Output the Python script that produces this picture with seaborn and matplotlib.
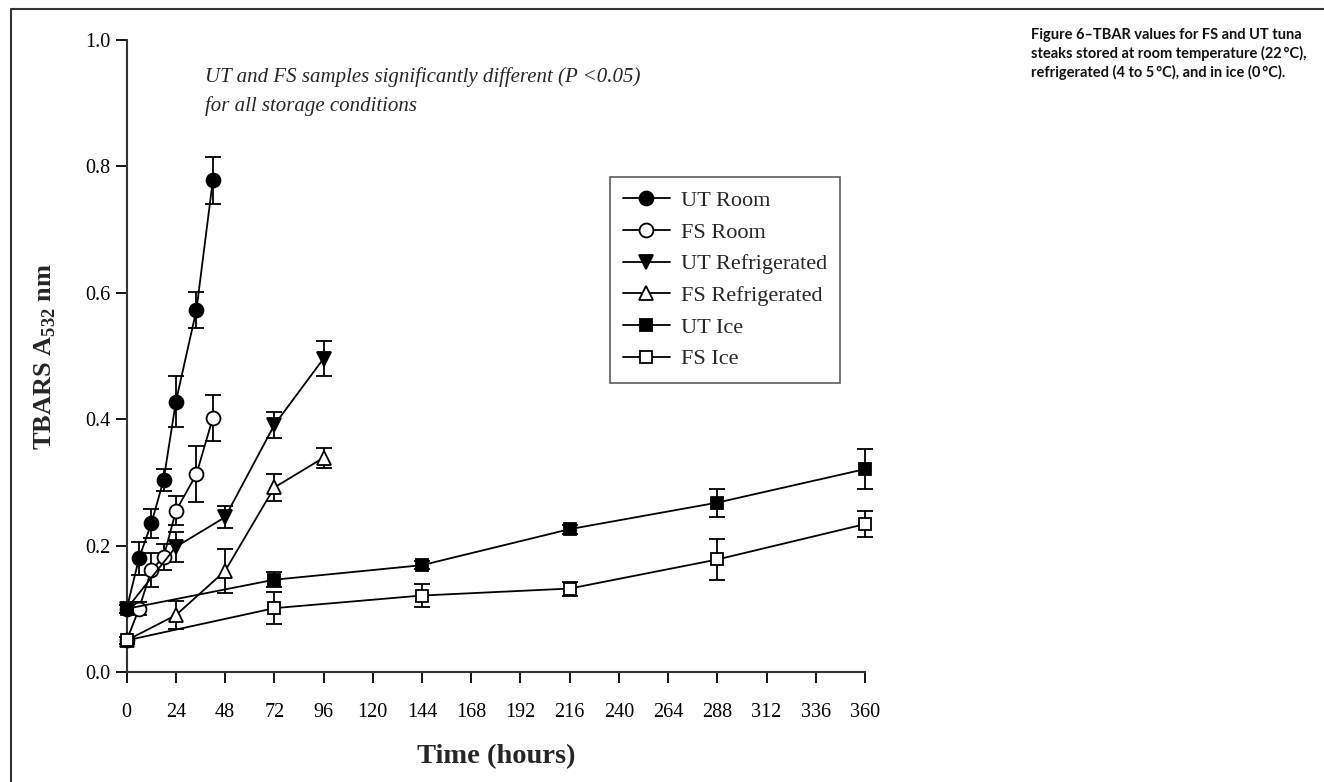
import matplotlib
matplotlib.use('Agg')
import matplotlib.pyplot as plt
import numpy as np
import pandas as pd
import seaborn as sns
from matplotlib.lines import Line2D

# ---- data ----
ut_room_t = [0, 6, 12, 18, 24, 34, 42]
ut_room_y = [0.100, 0.180, 0.235, 0.304, 0.428, 0.573, 0.778]
ut_room_e = [0.006, 0.026, 0.023, 0.017, 0.041, 0.028, 0.037]

fs_room_t = [0, 6, 12, 18, 24, 34, 42]
fs_room_y = [0.050, 0.100, 0.161, 0.182, 0.255, 0.313, 0.402]
fs_room_e = [0.005, 0.010, 0.027, 0.020, 0.023, 0.044, 0.037]

ut_ref_t = [0, 24, 48, 72, 96]
ut_ref_y = [0.100, 0.198, 0.245, 0.391, 0.496]
ut_ref_e = [0.006, 0.024, 0.017, 0.020, 0.027]

fs_ref_t = [0, 24, 48, 72, 96]
fs_ref_y = [0.050, 0.090, 0.160, 0.292, 0.339]
fs_ref_e = [0.005, 0.022, 0.035, 0.021, 0.016]

ut_ice_t = [0, 72, 144, 216, 288, 360]
ut_ice_y = [0.100, 0.146, 0.169, 0.226, 0.268, 0.321]
ut_ice_e = [0.006, 0.012, 0.006, 0.007, 0.022, 0.032]

fs_ice_t = [0, 72, 144, 216, 288, 360]
fs_ice_y = [0.050, 0.101, 0.121, 0.132, 0.178, 0.234]
fs_ice_e = [0.005, 0.025, 0.018, 0.011, 0.033, 0.020]

series = [
    ('UT Room', ut_room_t, ut_room_y, ut_room_e, 'o', 'black', 10),
    ('FS Room', fs_room_t, fs_room_y, fs_room_e, 'o', 'white', 10),
    ('UT Refrigerated', ut_ref_t, ut_ref_y, ut_ref_e, 'v', 'black', 10),
    ('FS Refrigerated', fs_ref_t, fs_ref_y, fs_ref_e, '^', 'white', 10),
    ('UT Ice', ut_ice_t, ut_ice_y, ut_ice_e, 's', 'black', 8.5),
    ('FS Ice', fs_ice_t, fs_ice_y, fs_ice_e, 's', 'white', 8.5),
]

x_ticks = list(range(0, 361, 24))
y_ticks = [0.0, 0.2, 0.4, 0.6, 0.8, 1.0]

sns.set_style('ticks')
plt.rcParams['font.family'] = ['Liberation Serif', 'DejaVu Serif']
plt.rcParams['mathtext.fontset'] = 'custom'
plt.rcParams['mathtext.rm'] = 'Liberation Serif'
plt.rcParams['mathtext.bf'] = 'Liberation Serif:bold'

fig = plt.figure(figsize=(13.24, 7.82), dpi=100)
ax = fig.add_axes([0.0957, 0.1407, 0.5576, 0.8081])

handles = []
for name, t, y, e, mk, fc, ms in series:
    df = pd.DataFrame({'t': t, 'y': y})
    eb = ax.errorbar(t, y, yerr=e, fmt='none', ecolor='black', elinewidth=1.3,
                     capsize=6, capthick=1.3, zorder=2)
    for art in eb.lines[1] + eb.lines[2]:
        art.set_clip_on(False)
    sns.lineplot(data=df, x='t', y='y', ax=ax, color='black', linewidth=1.3,
                 marker=mk, markersize=ms, markerfacecolor=fc,
                 markeredgecolor='black', markeredgewidth=1.3, zorder=3,
                 legend=False, clip_on=False)
    handles.append(Line2D([0], [0], color='black', lw=1.3, marker=mk,
                          markersize=ms, markerfacecolor=fc,
                          markeredgecolor='black', markeredgewidth=1.3))

ax.set_xlim(0, 360)
ax.set_ylim(0, 1.0)
ax.set_xticks(x_ticks)
ax.set_yticks(y_ticks)
ax.set_yticklabels([f'{v:.1f}' for v in y_ticks])
ax.tick_params(axis='both', direction='out', length=8, width=1.3,
               labelsize=14.5, colors='black')
ax.tick_params(axis='x', pad=14)
for s in ['top', 'right']:
    ax.spines[s].set_visible(False)
for s in ['left', 'bottom']:
    ax.spines[s].set_linewidth(1.5)
    ax.spines[s].set_color('#333333')

ax.set_xlabel('Time (hours)', fontsize=20.5, fontweight='bold', labelpad=16)
ax.set_ylabel(r'TBARS A$_{\mathbf{532}}$ nm', fontsize=19, fontweight='bold',
              labelpad=20)

ax.text(38, 0.941, 'UT and FS samples significantly different (P <0.05)',
        fontsize=15, fontstyle='italic', va='center', ha='left')
ax.text(38, 0.895, 'for all storage conditions',
        fontsize=15, fontstyle='italic', va='center', ha='left')

leg = ax.legend(handles, [s[0] for s in series], loc='upper left',
                fontsize=16, frameon=True, fancybox=False,
                edgecolor='#333333', handlelength=2.1, handletextpad=0.5,
                labelspacing=0.5, borderpad=0.6, borderaxespad=0)
leg.get_frame().set_linewidth(1.2)
leg.set_zorder(5)
# legend corner in data coordinates
leg.set_bbox_to_anchor((235.5, 0.783), transform=ax.transData)

fig.text(0.779, 0.964,
         'Figure 6\u2013TBAR values for FS and UT tuna\n'
         'steaks stored at room temperature (22\u2009\u00b0C),\n'
         'refrigerated (4 to 5\u2009\u00b0C), and in ice (0\u2009\u00b0C).',
         family=['Lato', 'DejaVu Sans'], fontweight='bold', fontsize=10.5,
         va='top', ha='left', linespacing=1.3, color='#111111')

# outer frame lines (top and left) of the figure panel
fig.add_artist(Line2D([11 / 1324, 1], [1 - 9 / 782, 1 - 9 / 782],
                      transform=fig.transFigure, color='#333333', lw=1.5))
fig.add_artist(Line2D([11 / 1324, 11 / 1324], [0, 1 - 9 / 782],
                      transform=fig.transFigure, color='#333333', lw=1.5))

fig.savefig('out.png', dpi=100)
